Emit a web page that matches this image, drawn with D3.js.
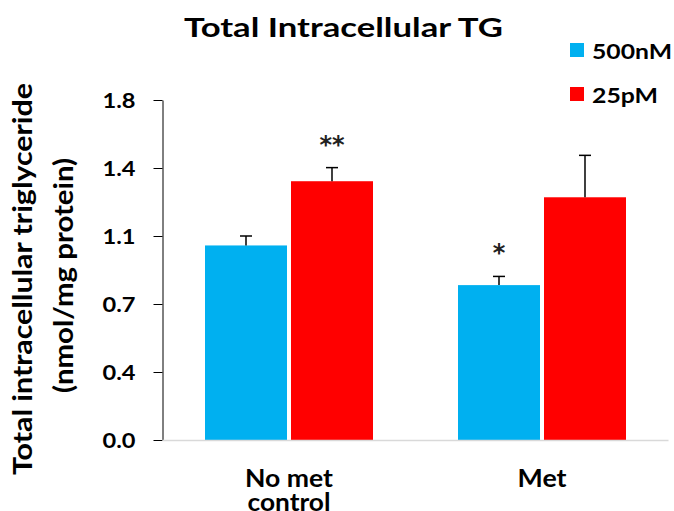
<!DOCTYPE html>
<html>
<head>
<meta charset="utf-8">
<script src="https://cdn.jsdelivr.net/npm/d3@7"></script>
<style>
  html, body { margin: 0; padding: 0; background: #fff; }
  svg { display: block; font-family: Lato, "Open Sans", sans-serif; }
</style>
</head>
<body>
<svg id="chart" width="674" height="511"></svg>
<script>
// Groups and treatment series
const categories = ["No met control", "Met"];
const categoryLines = [["No met", "control"], ["Met"]];
const series = ["500nM", "25pM"];
const seriesColors = ["#00B0F0", "#FF0000"];

// Mean total intracellular TG (nmol/mg protein) per group, per series
const values500nM = [1.03, 0.82];
const values25pM = [1.37, 1.285];
// Upper error (SEM) per group, per series
const errors500nM = [0.05, 0.046];
const errors25pM = [0.072, 0.222];
// Significance markers per group, per series
const marks500nM = ["", "*"];
const marks25pM = ["**", ""];

// Axis ticks and their printed labels
const yTickValues = [0, 0.36, 0.72, 1.08, 1.44, 1.8];
const yTickLabels = ["0.0", "0.4", "0.7", "1.1", "1.4", "1.8"];

const seriesValues = [values500nM, values25pM];
const seriesErrors = [errors500nM, errors25pM];
const seriesMarks = [marks500nM, marks25pM];

const svg = d3.select("#chart");

const plot = { left: 162.5, right: 668.5, top: 100, bottom: 440 };

const y = d3.scaleLinear().domain([0, 1.8]).range([plot.bottom, plot.top]);
const x0 = d3.scaleBand().domain(categories)
  .range([plot.left, plot.right])
  .paddingInner(0.336).paddingOuter(0.168);
const x1 = d3.scaleBand().domain(series)
  .range([0, x0.bandwidth()])
  .paddingInner(0.0465).paddingOuter(0);

// Wide bold label helper: text is stretched to a target run length
function label(parent, txt, x, yPos, size, len, anchor) {
  return parent.append("text")
    .attr("x", x).attr("y", yPos)
    .attr("text-anchor", anchor || "middle")
    .attr("font-size", size).attr("font-weight", 700)
    .attr("fill", "#000")
    .attr("textLength", len).attr("lengthAdjust", "spacingAndGlyphs")
    .text(txt);
}

// Title
label(svg, "Total Intracellular TG", 343.5, 36.5, 26.5, 319);

// Legend
series.forEach((s, i) => {
  const g = svg.append("g").attr("transform", `translate(570, ${43 + i * 44})`);
  g.append("rect").attr("width", 14).attr("height", 14).attr("fill", seriesColors[i]);
  label(g, s, 22, 16, 21.5, i === 0 ? 80 : 66, "start");
});

// Y axis
const yAxis = d3.axisLeft(y)
  .tickValues(yTickValues)
  .tickFormat((d, i) => yTickLabels[i])
  .tickSize(9).tickSizeOuter(0).tickPadding(18);
const gy = svg.append("g").attr("transform", `translate(${plot.left},0)`).call(yAxis);
gy.select(".domain").attr("stroke", "#000").attr("stroke-width", 1);
gy.selectAll(".tick line").attr("stroke", "#000").attr("stroke-width", 1);
gy.selectAll(".tick text")
  .attr("font-size", 21).attr("font-weight", 700)
  .attr("font-family", "Lato, sans-serif").attr("fill", "#000")
  .attr("dy", "0.35em")
  .attr("textLength", 33).attr("lengthAdjust", "spacingAndGlyphs");

// Y axis title (two lines, rotated)
const yTitle = svg.append("g").attr("transform", "rotate(-90)");
label(yTitle, "Total intracellular triglyceride", -279, 32, 26, 392);
label(yTitle, "(nmol/mg protein)", -275.5, 72.5, 26, 235);

// Bars
const groups = svg.append("g").selectAll("g")
  .data(categories).join("g")
  .attr("transform", d => `translate(${x0(d)},0)`);

series.forEach((s, si) => {
  groups.append("rect")
    .attr("x", x1(s))
    .attr("width", x1.bandwidth())
    .attr("y", (d, gi) => y(seriesValues[si][gi]))
    .attr("height", (d, gi) => y(0) - y(seriesValues[si][gi]))
    .attr("fill", seriesColors[si]);

  // Upper error bars
  const cx = x1(s) + x1.bandwidth() / 2;
  const top = (d, gi) => y(seriesValues[si][gi] + seriesErrors[si][gi]);
  groups.append("line")
    .attr("x1", cx).attr("x2", cx)
    .attr("y1", (d, gi) => y(seriesValues[si][gi]))
    .attr("y2", top)
    .attr("stroke", "#000").attr("stroke-width", 1.5);
  groups.append("line")
    .attr("x1", cx - 6).attr("x2", cx + 6)
    .attr("y1", top).attr("y2", top)
    .attr("stroke", "#000").attr("stroke-width", 1.5);

  // Significance asterisks
  groups.append("text")
    .attr("x", cx)
    .attr("y", (d, gi) => top(d, gi) - 15)
    .attr("text-anchor", "middle")
    .attr("font-family", "DejaVu Sans, sans-serif")
    .attr("font-weight", 700)
    .attr("font-size", 24).attr("fill", "#222")
    .text((d, gi) => seriesMarks[si][gi]);
});

// X baseline
svg.append("line")
  .attr("x1", plot.left).attr("x2", plot.right)
  .attr("y1", plot.bottom + 0.5).attr("y2", plot.bottom + 0.5)
  .attr("stroke", "#d9d9d9").attr("stroke-width", 1.5);

// Category labels
const catWidths = [[88, 83], [49]];
categories.forEach((c, i) => {
  categoryLines[i].forEach((line, li) => {
    label(svg, line, x0(c) + x0.bandwidth() / 2, 486.5 + li * 24, 25.5, catWidths[i][li]);
  });
});
</script>
</body>
</html>
